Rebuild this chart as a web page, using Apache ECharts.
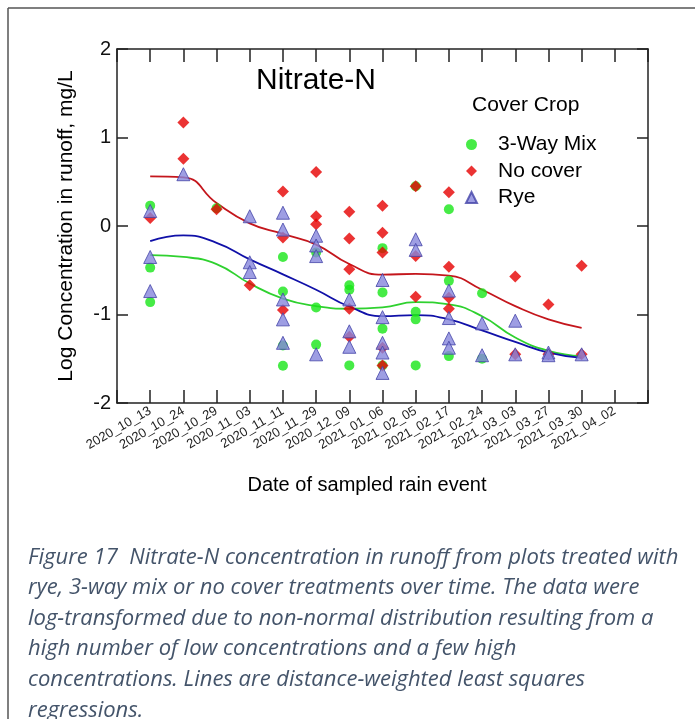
<!DOCTYPE html>
<html>
<head>
<meta charset="utf-8">
<script src="https://cdn.jsdelivr.net/npm/echarts@6/dist/echarts.min.js"></script>
<style>
html,body{margin:0;padding:0;background:#fff;}
#chart{width:695px;height:719px;}
</style>
</head>
<body>
<div id="chart"></div>
<script>
// Sampled rain event dates (x categories at positions 1..15)
const dates = ['2020_10_13','2020_10_24','2020_10_29','2020_11_03','2020_11_11','2020_11_29','2020_12_09','2021_01_06','2021_02_05','2021_02_17','2021_02_24','2021_03_03','2021_03_27','2021_03_30','2021_04_02'];
const yTicks = [-2, -1, 0, 1, 2];

// Observed log concentrations per date (one list per date)
const mixValues = [
  [0.23, -0.47, -0.86], [], [0.2], [],
  [-0.35, -0.74, -1.35, -1.58],
  [-0.30, -0.92, -1.34],
  [-0.67, -0.72, -1.575],
  [-0.25, -0.75, -1.16, -1.575],
  [0.45, -0.97, -1.055, -1.575],
  [0.19, -0.62, -1.47],
  [-0.76, -1.50], [], [], [], []
];
const noCoverValues = [
  [0.09], [1.17, 0.76], [0.19], [-0.67],
  [0.39, -0.13, -0.95],
  [0.61, 0.11, 0.02],
  [0.16, -0.14, -0.49, -0.935, -1.25],
  [0.23, -0.075, -0.30, -1.375, -1.575],
  [0.45, -0.34, -0.80],
  [0.38, -0.46, -0.81, -0.935],
  [], [-0.57, -1.45], [-0.886, -1.45], [-0.45, -1.45], []
];
const ryeValues = [
  [0.17, -0.35, -0.735], [0.585], [], [0.11, -0.41, -0.52],
  [0.15, -0.04, -0.83, -1.055, -1.32],
  [-0.11, -0.22, -0.34, -1.45],
  [-0.83, -1.19, -1.365],
  [-0.61, -1.03, -1.32, -1.43, -1.66],
  [-0.15, -0.27],
  [-0.73, -1.04, -1.27, -1.375],
  [-1.10, -1.46], [-1.07, -1.45], [-1.43, -1.46], [-1.45], []
];

// Distance-weighted least squares curves, read at dates 1..14
const mixFit = [-0.33, -0.35, -0.43, -0.65, -0.82, -0.905, -0.935, -0.92, -0.86, -0.886, -1.02, -1.26, -1.41, -1.47];
const noCoverFit = [0.56, 0.55, 0.26, 0.03, -0.09, -0.21, -0.43, -0.55, -0.54, -0.56, -0.72, -0.905, -1.055, -1.15];
const ryeFit = [-0.17, -0.105, -0.19, -0.377, -0.546, -0.72, -0.91, -1.018, -1.006, -1.055, -1.18, -1.31, -1.43, -1.49];

const captionLines = [
  'Figure 17  Nitrate-N concentration in runoff from plots treated with',
  'rye, 3-way mix or no cover treatments over time. The data were',
  'log-transformed due to non-normal distribution resulting from a',
  'high number of low concentrations and a few high',
  'concentrations. Lines are distance-weighted least squares',
  'regressions.'
];

function toPoints(lists) {
  const out = [];
  lists.forEach((vals, i) => vals.forEach(v => out.push([i + 1, v])));
  return out;
}
function toLine(vals) { return vals.map((v, i) => [i + 1, v]); }

const FONT = 'Liberation Sans, Arial, sans-serif';
const axisLineStyle = { color: '#222', width: 1.5 };

const chart = echarts.init(document.getElementById('chart'), null, { renderer: 'canvas' });
chart.setOption({
  backgroundColor: '#fff',
  animation: false,
  textStyle: { fontFamily: FONT },
  title: [
    { text: 'Nitrate-N', left: 251, top: 61, textStyle: { fontSize: 30, fontWeight: 'normal', color: '#000', fontFamily: FONT } },
    { text: 'Cover Crop', left: 467, top: 90, textStyle: { fontSize: 21, fontWeight: 'normal', color: '#000', fontFamily: FONT } }
  ],
  legend: {
    orient: 'vertical', left: 460, top: 129,
    itemWidth: 11, itemHeight: 11, itemGap: 5.5,
    data: ['3-Way Mix', 'No cover', 'Rye'],
    textStyle: { fontSize: 21, color: '#000', fontFamily: FONT, lineHeight: 21, padding: [0, 0, 0, 16] }
  },
  grid: { left: 117, right: 47, top: 49, bottom: 316, show: false },
  xAxis: [
    {
      type: 'value', min: 0, max: 16, interval: 1, position: 'bottom',
      axisLine: { show: true, onZero: false, lineStyle: axisLineStyle },
      axisTick: { show: true, inside: true, length: 13, lineStyle: axisLineStyle },
      splitLine: { show: false },
      axisLabel: { rotate: 30, fontSize: 13, color: '#222', margin: 7, fontFamily: FONT,
        formatter: v => (v >= 1 && v <= dates.length ? dates[v - 1] : '') },
      name: 'Date of sampled rain event', nameLocation: 'middle', nameGap: 72,
      nameTextStyle: { fontSize: 20, color: '#000', fontFamily: FONT, padding: [0, 31, 0, 0] }
    },
    {
      type: 'value', min: 0, max: 16, interval: 1, position: 'top',
      axisLine: { show: true, onZero: false, lineStyle: axisLineStyle },
      axisTick: { show: true, inside: true, length: 13, lineStyle: axisLineStyle },
      splitLine: { show: false }, axisLabel: { show: false }
    }
  ],
  yAxis: [
    {
      type: 'value', min: yTicks[0], max: yTicks[yTicks.length - 1], interval: 1, position: 'left',
      axisLine: { show: true, onZero: false, lineStyle: axisLineStyle },
      axisTick: { show: true, inside: true, length: 11, lineStyle: axisLineStyle },
      splitLine: { show: false },
      axisLabel: { fontSize: 20, color: '#111', margin: 6, fontFamily: FONT },
      name: 'Log Concentration in runoff, mg/L', nameLocation: 'middle', nameGap: 40,
      nameTextStyle: { fontSize: 21, color: '#000', fontFamily: FONT }
    },
    {
      type: 'value', min: yTicks[0], max: yTicks[yTicks.length - 1], interval: 1, position: 'right',
      axisLine: { show: true, onZero: false, lineStyle: axisLineStyle },
      axisTick: { show: true, inside: true, length: 11, lineStyle: axisLineStyle },
      splitLine: { show: false }, axisLabel: { show: false }
    }
  ],
  series: [
    { type: 'line', data: toLine(mixFit), smooth: 0.5, symbol: 'none', lineStyle: { color: '#2fd12f', width: 1.8 }, z: 2, silent: true },
    { type: 'line', data: toLine(noCoverFit), smooth: 0.5, symbol: 'none', lineStyle: { color: '#c4161c', width: 1.8 }, z: 2, silent: true },
    { type: 'line', data: toLine(ryeFit), smooth: 0.5, symbol: 'none', lineStyle: { color: '#1010a8', width: 1.8 }, z: 2, silent: true },
    { name: '3-Way Mix', type: 'scatter', data: toPoints(mixValues), symbol: 'circle', symbolSize: 10,
      itemStyle: { color: '#18e618' }, z: 3 },
    { name: 'No cover', type: 'scatter', data: toPoints(noCoverValues), symbol: 'diamond', symbolSize: 12,
      itemStyle: { color: '#e60000' }, z: 4 },
    { name: 'Rye', type: 'scatter', data: toPoints(ryeValues), symbol: 'triangle', symbolSize: 13,
      itemStyle: { color: '#8686dc', borderColor: '#4444a8', borderWidth: 1 }, z: 5 }
  ],
  graphic: [
    { type: 'line', shape: { x1: 8, y1: 8, x2: 695, y2: 8 }, style: { stroke: '#555', lineWidth: 1.5 } },
    { type: 'line', shape: { x1: 8, y1: 8, x2: 8, y2: 719 }, style: { stroke: '#555', lineWidth: 1.5 } },
    { type: 'text', left: 28, top: 542,
      style: { text: captionLines.join('\n'), fontSize: 22, fontStyle: 'italic', fontFamily: 'Open Sans, Lato, sans-serif',
        fill: '#44546A', lineHeight: 30.6 } }
  ]
});
</script>
</body>
</html>
